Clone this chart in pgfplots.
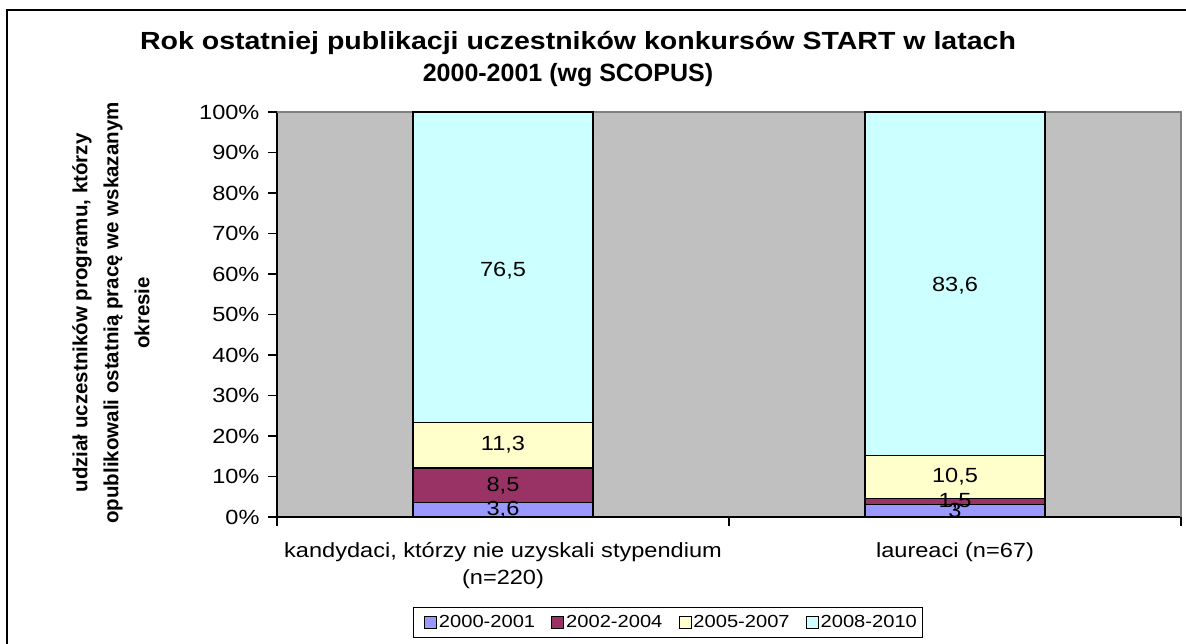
\documentclass[border=0pt]{standalone}
\usepackage{pgfplots}
\pgfplotsset{compat=1.18}
\usepackage{pgfplotstable}
\usepackage{fontspec}
\setmainfont{Liberation Sans}[FakeStretch=1.15]
\newfontfamily\plainfont{Liberation Sans}
\definecolor{c1}{HTML}{9999FF}
\definecolor{c2}{HTML}{993366}
\definecolor{c3}{HTML}{FFFFCC}
\definecolor{c4}{HTML}{CCFFFF}
\definecolor{bg}{HTML}{C0C0C0}
\definecolor{frm}{HTML}{808080}
% shares scaled to 100% (values as printed: 3.6 8.5 11.3 76.5 / 3 1.5 10.5 83.6)
\pgfplotstableread{
x a b c d
0 3.6036 8.5085 11.3113 76.5766
1 3.0426 1.5213 10.6491 84.7870
}\datatable
% label positions (segment middles) and printed values
\pgfplotstableread{
x m lab
0 1.80 3,6
0 7.86 8,5
0 17.77 11,3
0 60.80 76,5
1 1.52 3
1 3.80 1,5
1 9.89 10,5
1 57.20 83,6
}\labtable
\begin{document}
\begin{tikzpicture}
\useasboundingbox (0pt,0pt) rectangle (1186pt,644pt);
\draw[line width=2pt] (7pt,-20pt) -- (7pt,634pt) -- (1200pt,634pt);
\node[font=\fontsize{24.8}{32}\selectfont\bfseries, anchor=base] at (578pt,594pt)
  {Rok ostatniej publikacji uczestników konkursów START w latach};
\node[font=\fontsize{25}{32}\plainfont\bfseries, anchor=base] at (568pt,562pt)
  {2000-2001 (wg SCOPUS)};
\node[rotate=90, font=\fontsize{20.5}{31}\plainfont\bfseries, align=center] at (111pt,331pt)
  {udział uczestników programu, którzy\\opublikowali ostatnią pracę we wskazanym\\okresie};
\begin{axis}[
  at={(277pt,127pt)}, anchor=south west,
  scale only axis, x=452pt, y=4.05pt,
  xmin=-0.5, xmax=1.5, ymin=0, ymax=100,
  ybar stacked, bar width=180pt,
  axis background/.style={fill=bg},
  axis line style={draw=none},
  tick align=outside, major tick length=9pt,
  tick style={black, line width=1.2pt},
  tick pos=left,
  ytick={0,10,...,100},
  yticklabels={0\%,10\%,20\%,30\%,40\%,50\%,60\%,70\%,80\%,90\%,100\%},
  yticklabel style={xshift=-5pt},
  xtick={-0.5,0.5,1.5}, xticklabels={},
  extra x ticks={0,1},
  extra x tick labels={{kandydaci, którzy nie uzyskali stypendium\\(n=220)},{laureaci (n=67)}},
  extra x tick style={major tick length=0pt, xticklabel style={align=center, anchor=north, yshift=-22pt}},
  ticklabel style={font=\fontsize{20.5}{27}\selectfont},
  legend style={at={(0.433,-0.2605)}, anchor=center, legend columns=-1, draw=black, line width=1pt,
    fill=white, font=\fontsize{17.5}{21}\selectfont, inner ysep=6.5pt, inner xsep=4pt,
    /tikz/every even column/.append style={column sep=8pt}},
  legend image code/.code={\path (0pt,0pt); \draw[#1, draw=black, line width=0.8pt] (6pt,-6pt) rectangle (18pt,6pt);},
  clip=false,
]
\addplot[fill=c1, draw=black, line width=1.2pt] table[x=x, y=a] {\datatable};
\addplot[fill=c2, draw=black, line width=1.2pt] table[x=x, y=b] {\datatable};
\addplot[fill=c3, draw=black, line width=1.2pt] table[x=x, y=c] {\datatable};
\addplot[fill=c4, draw=black, line width=1.2pt] table[x=x, y=d] {\datatable};
\legend{2000-2001,2002-2004,2005-2007,2008-2010}
\draw[frm, line width=1.5pt] (rel axis cs:0,1) -- (rel axis cs:1,1) -- (rel axis cs:1,0);
\draw[black, line width=1.5pt] (rel axis cs:0,1) -- (rel axis cs:0,0) -- (rel axis cs:1,0);
\end{axis}
\begin{axis}[
  at={(277pt,127pt)}, anchor=south west,
  scale only axis, x=452pt, y=4.05pt,
  xmin=-0.5, xmax=1.5, ymin=0, ymax=100,
  hide axis, clip=false,
]
\addplot[only marks, mark=*, mark size=0pt, mark options={draw=none, fill=none},
  point meta=explicit symbolic, nodes near coords,
  every node near coord/.style={font=\fontsize{20.5}{24}\selectfont, anchor=center, text=black}]
  table[x=x, y=m, meta=lab] {\labtable};
\end{axis}
\end{tikzpicture}
\end{document}
